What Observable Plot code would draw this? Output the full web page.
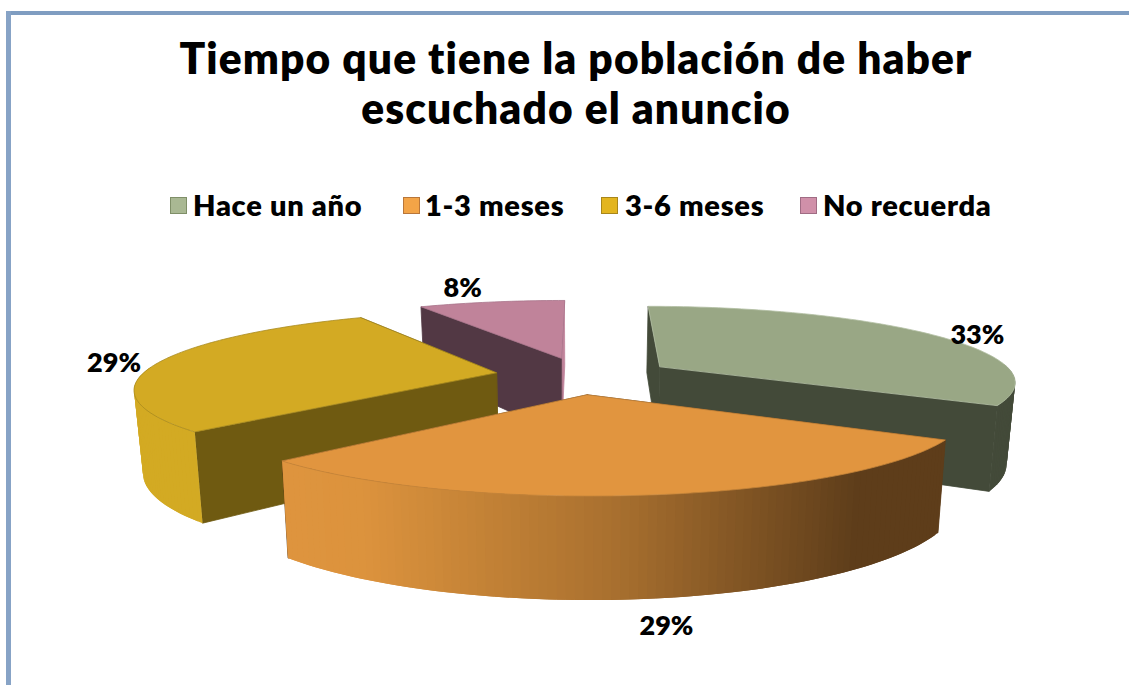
<!DOCTYPE html>
<html><head><meta charset="utf-8">
<script src="https://cdn.jsdelivr.net/npm/d3@7"></script>
<script src="https://cdn.jsdelivr.net/npm/@observablehq/plot@0.6"></script>
<style>
html,body{margin:0;padding:0;background:#fff;overflow:hidden}
body{width:1129px;height:685px;position:relative;font-family:Lato,sans-serif;color:#000}
#frameTop{position:absolute;left:6px;top:11px;width:1123px;height:4px;background:#7f9dc1}
#frameLeft{position:absolute;left:6px;top:11px;width:5px;height:674px;background:#87a3c6}
h1{position:absolute;left:0;top:33px;width:1152px;margin:0;text-align:center;font:800 42.5px/50px Lato,sans-serif;letter-spacing:1.1px}
#legend{position:absolute;left:0;top:187.5px;height:34px;width:1129px;font:800 29px/34px Lato,sans-serif;letter-spacing:.7px}
#legend span{position:absolute;white-space:nowrap}
#legend i{position:absolute;top:9px;width:15px;height:15px;border:1.5px solid}
#chart{position:absolute;left:0;top:240px}
</style></head>
<body>
<div id="frameTop"></div><div id="frameLeft"></div>
<h1>Tiempo que tiene la población de haber<br>escuchado el anuncio</h1>
<div id="legend"></div>
<div id="chart"></div>
<script>
// Data
const categories = ["Hace un año", "1-3 meses", "3-6 meses", "No recuerda"];
const percents = [33, 29, 29, 8];

// Style
const topColors = ["#99a785", "#e1953f", "#d3aa23", "#c0839a"];
const topEdges = ["#b3bfa3", "#c4843a", "#a88a20", "#a8748a"];
const cutStartColors = ["#434a39", "#5e3d1a", "#6f5a11", "#523844"];
const cutEndColors = ["#434a39", "#5e3d1a", "#6f5a11", "#c0839a"];
const wallStops = [
  [[0, 1], ["#434a39", "#434a39"]],
  [[0, 0.12, 0.5, 0.87, 1], ["#de943e", "#dc933d", "#a9702f", "#5e3d1a", "#5e3d1a"]],
  [[0, 1], ["#d3aa23", "#d3aa23"]],
  [[0, 1], ["#c0839a", "#c0839a"]]
];
const swatchFill = ["#a9b893", "#f3a447", "#e3b51f", "#d090a9"];
const swatchEdge = ["#7f8f68", "#b8763a", "#a8861a", "#a06c84"];
const swatchLeft = [170, 403, 601, 800];
const textLeft = [193, 425, 625, 823];

// Layout of the exploded 3D pie
const W = 1129, H = 445;
const view = {cx: 582, cy: 135, rx: 355, ry: 74.3, persp: 0.185, depth: 80, taper: 0.02, explode: 0.25};
const sliceNudge = [2, -7, 1, 0];
const labelRadius = [1.17, 1.0, 1.15, 1.15];
const labelDepth = [0, 1.33, 0, 0];
const labelShift = [[7, 6], [20, -7], [5, 2], [-20, -7]];

function project(u, v, z, nudge) {
  const s = 1 / (1 - view.persp * v);
  return [view.cx + nudge + view.rx * u * s * (1 - view.taper * z), view.cy + view.ry * v * s + view.depth * z * s];
}

const total = d3.sum(percents);
const slices = [];
let acc = 0;
percents.forEach((p, i) => {
  const a0 = acc / total * 2 * Math.PI;
  acc += p;
  const a1 = acc / total * 2 * Math.PI;
  const mid = (a0 + a1) / 2;
  slices.push({i, a0, a1, mid, ox: view.explode * Math.sin(mid), oy: -view.explode * Math.cos(mid)});
});

const polys = [];
let pid = 0;
function addPoly(pts, fill, stroke, sw) {
  const id = pid++;
  pts.forEach(([x, y]) => polys.push({id, x, y, fill, stroke, sw}));
}
[...slices].sort((a, b) => a.oy - b.oy).forEach(s => {
  const nudge = sliceNudge[s.i];
  const rim = (t, z) => project(s.ox + Math.sin(t), s.oy - Math.cos(t), z, nudge);
  const apex = z => project(s.ox, s.oy, z, nudge);
  const n = Math.max(8, Math.round((s.a1 - s.a0) / 0.02));
  const angles = d3.range(n + 1).map(k => s.a0 + (s.a1 - s.a0) * k / n);
  // cut faces
  addPoly([apex(0), rim(s.a1, 0), rim(s.a1, 1), apex(1)], cutEndColors[s.i], cutEndColors[s.i], 0.8);
  addPoly([apex(0), rim(s.a0, 0), rim(s.a0, 1), apex(1)], cutStartColors[s.i], cutStartColors[s.i], 0.8);
  // outer wall: only the part that faces the viewer, as overlapping shaded strips
  const xs = angles.map(t => rim(t, 0)[0]);
  const [xmin, xmax] = d3.extent(xs);
  const [dom, rng] = wallStops[s.i];
  const shade = d3.scaleLinear().domain(dom).range(rng).interpolate(d3.interpolateRgb);
  for (let k = 0; k < n; k++) {
    if (Math.cos(angles[k]) > 0.05) continue;
    const c = shade(((xs[k] + xs[k + 1]) / 2 - xmin) / (xmax - xmin));
    const next = angles[Math.min(k + 2, n)];
    addPoly([rim(angles[k], 0), rim(next, 0), rim(next, 1), rim(angles[k], 1)], c, "none", 0);
  }
  // top face
  addPoly([apex(0), ...angles.map(t => rim(t, 0))], topColors[s.i], topEdges[s.i], 0.8);
});

const labels = slices.map(s => {
  const r = labelRadius[s.i];
  const [x, y] = project(s.ox + r * Math.sin(s.mid), s.oy - r * Math.cos(s.mid), labelDepth[s.i], sliceNudge[s.i]);
  return {x: x + labelShift[s.i][0], y: y + labelShift[s.i][1], text: percents[s.i] + "%"};
});

const chart = Plot.plot({
  width: W, height: H,
  margin: 0,
  x: {domain: [0, W], range: [0, W], axis: null},
  y: {domain: [0, H], range: [0, H], axis: null},
  style: {background: "transparent", overflow: "visible"},
  marks: [
    Plot.line(polys, {x: "x", y: "y", z: "id", fill: "fill", stroke: "stroke", strokeWidth: "sw", curve: "linear-closed"}),
    Plot.text(labels, {x: "x", y: "y", text: "text", fontSize: 27, fontWeight: 800, fontFamily: "Lato, sans-serif", fill: "#000"})
  ]
});
document.getElementById("chart").appendChild(chart);

const legend = d3.select("#legend");
categories.forEach((c, i) => {
  legend.append("i").style("left", swatchLeft[i] + "px").style("background", swatchFill[i]).style("border-color", swatchEdge[i]);
  legend.append("span").style("left", textLeft[i] + "px").text(c);
});
</script>
</body></html>
